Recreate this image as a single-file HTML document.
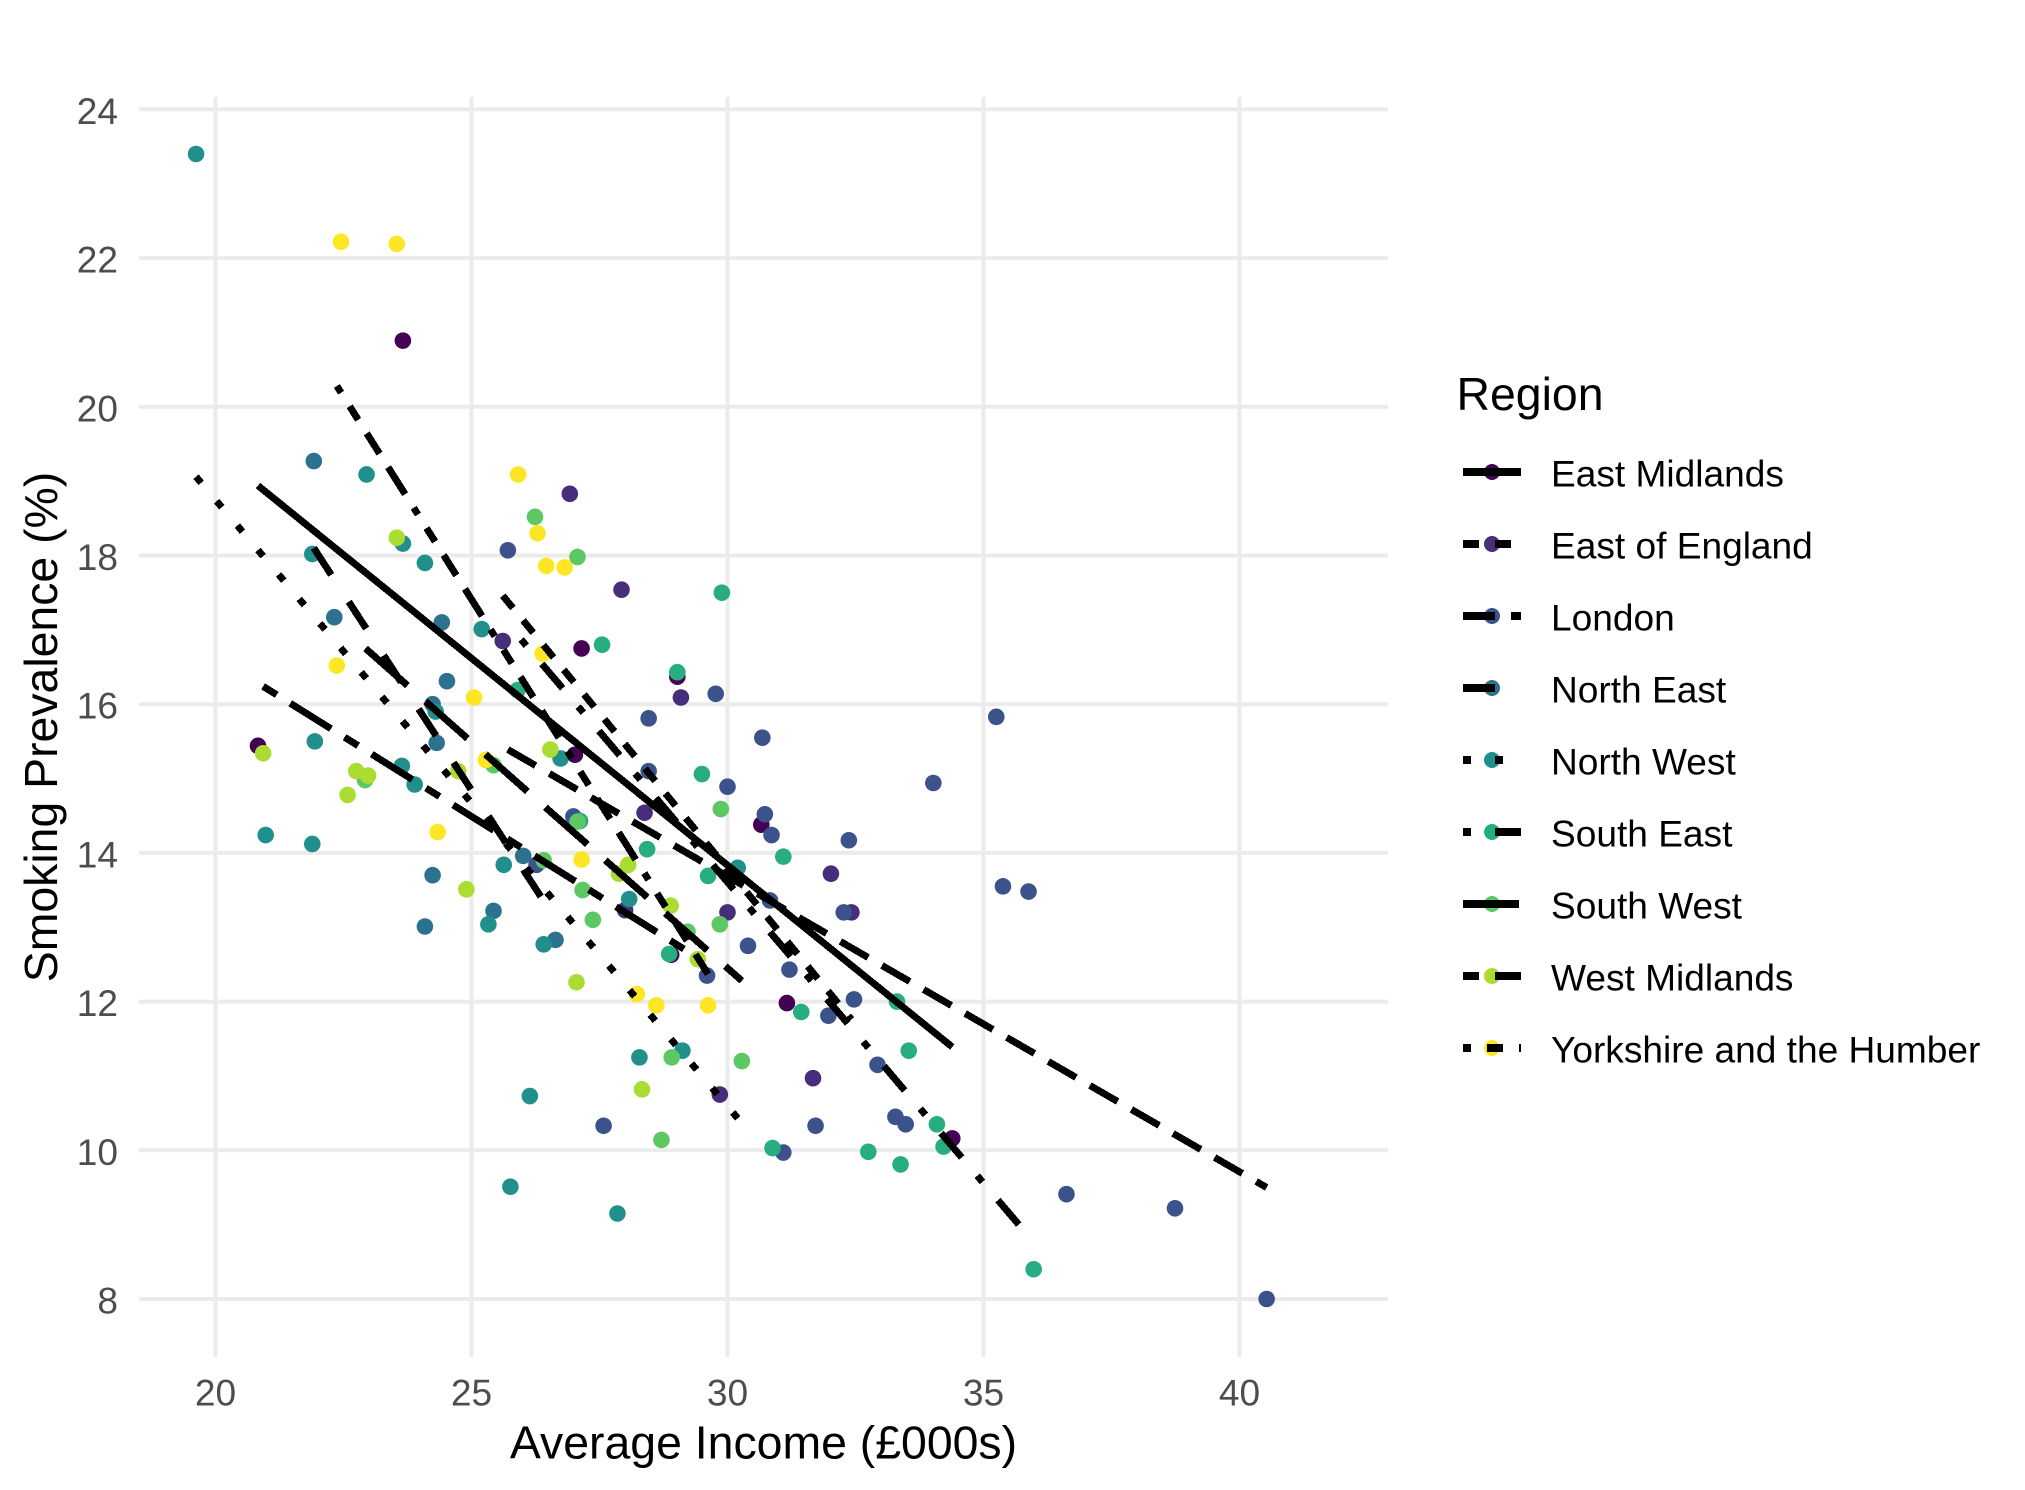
<!DOCTYPE html>
<html lang="en">
<head>
<meta charset="utf-8">
<title>Smoking Prevalence vs Average Income by Region</title>
<style>
html,body{margin:0;padding:0;background:#fff;}
svg{display:block;font-family:"Liberation Sans",Arial,sans-serif;}
</style>
</head>
<body>
<svg id="chart" xmlns="http://www.w3.org/2000/svg" width="2025" height="1490" viewBox="0 0 2025 1490">
  <rect x="0" y="0" width="2025" height="1490" fill="#ffffff"/>
  <g id="grid"></g>
  <g id="points"></g>
  <g id="fits"></g>
  <g id="xticks"></g>
  <g id="yticks"></g>
  <text x="763.5" y="1458.5" text-anchor="middle" font-size="46.4" fill="#000">Average Income (£000s)</text>
  <text transform="translate(57,727) rotate(-90)" text-anchor="middle" font-size="46.4" fill="#000">Smoking Prevalence (%)</text>
  <text x="1456.5" y="410" font-size="46.4" fill="#000">Region</text>
  <g id="legend"></g>
</svg>
<script>
// ---- Tick labels ----
const xTicks = [20, 25, 30, 35, 40];
const yTicks = [8, 10, 12, 14, 16, 18, 20, 22, 24];

// ---- Categories ----
const regions = ["East Midlands", "East of England", "London", "North East", "North West", "South East", "South West", "West Midlands", "Yorkshire and the Humber"];

// ---- Series values: income (£000s) and smoking prevalence (%) ----
const eastMidlandsIncome = [23.66, 20.83, 27.15, 29.02, 27.02, 30.66, 31.16, 34.39, 28.90];
const eastMidlandsSmoking = [20.89, 15.44, 16.75, 16.37, 15.32, 14.38, 11.98, 10.16, 12.63];

const eastOfEnglandIncome = [26.92, 27.93, 25.61, 29.09, 28.38, 32.02, 30.00, 32.42, 28.00, 31.67, 29.85];
const eastOfEnglandSmoking = [18.83, 17.54, 16.85, 16.09, 14.54, 13.72, 13.20, 13.20, 13.23, 10.97, 10.75];

const londonIncome = [25.71, 29.77, 28.46, 30.68, 35.25, 34.02, 28.46, 30.00, 30.73, 30.86, 32.37, 26.99, 26.27, 35.38, 35.88, 30.83, 32.27, 30.40, 31.21, 29.60, 31.97, 32.47, 32.93, 27.58, 31.72, 31.09, 33.28, 33.48, 36.62, 38.74, 40.53];
const londonSmoking = [18.07, 16.14, 15.81, 15.55, 15.83, 14.94, 15.10, 14.89, 14.52, 14.24, 14.17, 14.49, 13.84, 13.55, 13.48, 13.36, 13.20, 12.75, 12.43, 12.35, 11.81, 12.03, 11.15, 10.33, 10.33, 9.97, 10.45, 10.35, 9.41, 9.22, 8.00];

const northEastIncome = [21.92, 22.32, 24.42, 24.52, 24.24, 24.32, 24.24, 24.09, 25.43, 26.01, 26.64];
const northEastSmoking = [19.27, 17.17, 17.10, 16.31, 16.00, 15.48, 13.70, 13.01, 13.22, 13.96, 12.83];

const northWestIncome = [19.62, 22.95, 21.89, 23.66, 24.09, 25.20, 26.74, 21.94, 23.64, 23.89, 20.98, 21.89, 25.63, 25.33, 26.41, 28.08, 30.20, 29.12, 28.28, 26.14, 25.76, 27.85, 24.30];
const northWestSmoking = [23.40, 19.09, 18.02, 18.16, 17.90, 17.01, 15.27, 15.50, 15.17, 14.92, 14.24, 14.12, 13.84, 13.04, 12.77, 13.38, 13.80, 11.34, 11.25, 10.73, 9.51, 9.15, 15.90];

const southEastIncome = [29.89, 27.55, 29.02, 25.90, 29.50, 29.62, 31.09, 28.43, 28.86, 27.12, 31.44, 33.31, 33.54, 34.09, 34.22, 30.88, 32.75, 33.38, 35.98];
const southEastSmoking = [17.50, 16.80, 16.43, 16.19, 15.06, 13.69, 13.95, 14.05, 12.64, 14.43, 11.86, 12.00, 11.34, 10.35, 10.05, 10.03, 9.98, 9.81, 8.40];

const southWestIncome = [26.24, 27.07, 29.87, 25.43, 26.41, 27.17, 27.37, 29.85, 29.22, 27.07, 28.91, 30.28, 28.71, 22.92];
const southWestSmoking = [18.52, 17.98, 14.59, 15.18, 13.90, 13.50, 13.10, 13.04, 12.94, 14.42, 11.25, 11.20, 10.14, 14.98];

const westMidlandsIncome = [23.54, 20.93, 22.75, 22.98, 22.58, 24.74, 26.54, 24.90, 27.05, 27.88, 28.06, 28.89, 29.42, 28.33];
const westMidlandsSmoking = [18.24, 15.34, 15.10, 15.04, 14.78, 15.10, 15.39, 13.51, 12.26, 13.72, 13.84, 13.29, 12.57, 10.82];

const yorkshireIncome = [22.45, 23.54, 25.91, 26.29, 26.46, 26.82, 22.37, 25.05, 26.39, 25.28, 24.34, 27.15, 28.23, 28.61, 29.62];
const yorkshireSmoking = [22.22, 22.19, 19.09, 18.30, 17.86, 17.84, 16.52, 16.09, 16.68, 15.25, 14.28, 13.91, 12.10, 11.95, 11.95];

// ---- Fitted lines per region (same order as regions) ----
const fitStartIncome = [20.83, 25.61, 25.71, 21.92, 19.62, 25.97, 22.93, 20.93, 22.37];
const fitStartSmoking = [18.94, 17.46, 15.39, 18.10, 19.06, 16.87, 16.75, 16.24, 20.28];
const fitEndIncome = [34.39, 32.42, 40.53, 26.64, 30.20, 35.90, 30.28, 29.42, 29.62];
const fitEndSmoking = [11.39, 11.76, 9.50, 13.11, 10.43, 8.83, 12.28, 12.59, 12.37];

const incomeSeries = [eastMidlandsIncome, eastOfEnglandIncome, londonIncome, northEastIncome, northWestIncome, southEastIncome, southWestIncome, westMidlandsIncome, yorkshireIncome];
const smokingSeries = [eastMidlandsSmoking, eastOfEnglandSmoking, londonSmoking, northEastSmoking, northWestSmoking, southEastSmoking, southWestSmoking, westMidlandsSmoking, yorkshireSmoking];

// ---- Styles ----
const regionColors = ["#440154", "#472D7B", "#3B528B", "#2C728E", "#21908C", "#27AD81", "#5DC863", "#AADC32", "#FDE725"];
const regionDashes = ["", "16 16", "32 16", "32 32", "8 24", "8 24 32 24", "56 24", "16 16 48 16", "8 16 16 16 24 16 32 16"];

// ---- Axis functions ----
function xScale(v) { return 215.5 + (v - 20) * 51.2; }
function yScale(v) { return 1299 - (v - 8) * 74.35; }

const NS = "http://www.w3.org/2000/svg";
function make(tag, parent, attrs, text) {
  const el = document.createElementNS(NS, tag);
  for (const k in attrs) el.setAttribute(k, attrs[k]);
  if (text !== undefined) el.textContent = text;
  parent.appendChild(el);
  return el;
}
function slug(s) { return s.toLowerCase().replace(/\s+/g, "-"); }

const panelLeft = 139, panelRight = 1388, panelTop = 97, panelBottom = 1357;
const gridG = document.getElementById("grid");
const xTickG = document.getElementById("xticks");
const yTickG = document.getElementById("yticks");
const pointsG = document.getElementById("points");
const fitsG = document.getElementById("fits");
const legendG = document.getElementById("legend");

yTicks.forEach(function (t) {
  const line = make("line", gridG, { x1: panelLeft, x2: panelRight, y1: yScale(t), y2: yScale(t), stroke: "#EBEBEB", "stroke-width": 4 });
  
  
  const label = make("text", yTickG, { x: 118, y: yScale(t) + 14.5, "text-anchor": "end", "font-size": 37.1, fill: "#4D4D4D" }, String(t));
  
  
});
xTicks.forEach(function (t) {
  const line = make("line", gridG, { x1: xScale(t), x2: xScale(t), y1: panelTop, y2: panelBottom, stroke: "#EBEBEB", "stroke-width": 4 });
  
  
  const label = make("text", xTickG, { x: xScale(t), y: 1405.5, "text-anchor": "middle", "font-size": 37.1, fill: "#4D4D4D" }, String(t));
  
  
});

regions.forEach(function (region, r) {
  const xs = incomeSeries[r], ys = smokingSeries[r];
  for (let i = 0; i < xs.length; i++) {
    const dot = make("circle", pointsG, { cx: xScale(xs[i]), cy: yScale(ys[i]), r: 8.3, fill: regionColors[r] });
    
    
  }
});

regions.forEach(function (region, r) {
  const fit = make("line", fitsG, {
    x1: xScale(fitStartIncome[r]), y1: yScale(fitStartSmoking[r]),
    x2: xScale(fitEndIncome[r]), y2: yScale(fitEndSmoking[r]),
    stroke: "#000", "stroke-width": 7, "stroke-linecap": "butt",
    "stroke-dasharray": regionDashes[r] || "none", "shape-rendering": "crispEdges"
  });
  
  
});

regions.forEach(function (region, r) {
  const cy = 472 + r * 72;
  const dot = make("circle", legendG, { cx: 1492, cy: cy, r: 8, fill: regionColors[r] });
  
  
  const key = make("line", legendG, { x1: 1463, x2: 1521, y1: cy, y2: cy, stroke: "#000", "stroke-width": 8, "stroke-dasharray": regionDashes[r] || "none", "shape-rendering": "crispEdges" });
  
  
  const label = make("text", legendG, { x: 1551, y: cy + 14.5, "font-size": 37.1, fill: "#000" }, region);
  
  
});
</script>
</body>
</html>
